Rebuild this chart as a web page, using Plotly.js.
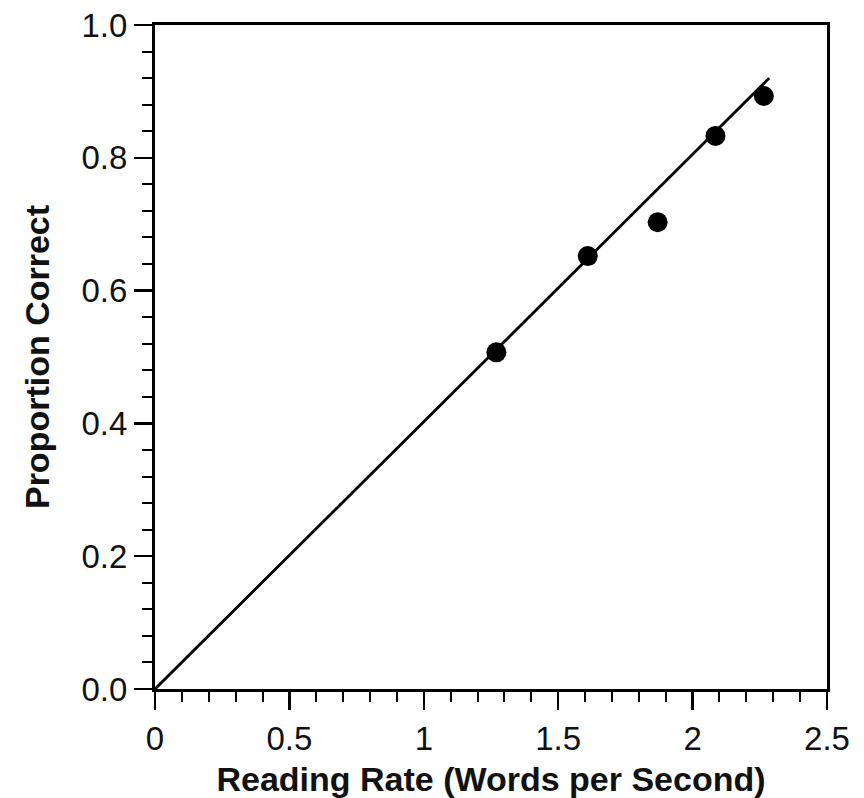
<!DOCTYPE html>
<html>
<head>
<meta charset="utf-8">
<script src="https://cdn.plot.ly/plotly-3.0.1.min.js"></script>
<style>html,body{margin:0;padding:0;background:#fff;}#chart{width:864px;height:798px;}</style>
</head>
<body>
<div id="chart"></div>
<script>
// Data
var readingRate = [1.27, 1.61, 1.87, 2.085, 2.265];
var proportionCorrect = [0.507, 0.652, 0.703, 0.833, 0.893];
var fitX = [0, 2.285];
var fitY = [0, 0.92];
var xTickVals = [0, 0.5, 1, 1.5, 2, 2.5];
var xTickText = ['0', '0.5', '1', '1.5', '2', '2.5'];
var yTickVals = [0, 0.2, 0.4, 0.6, 0.8, 1.0];
var yTickText = ['0.0', '0.2', '0.4', '0.6', '0.8', '1.0'];

var traces = [
  {x: fitX, y: fitY, mode: 'lines', type: 'scatter',
   line: {color: '#000', width: 2.8}, hoverinfo: 'skip', cliponaxis: false},
  {x: readingRate, y: proportionCorrect, mode: 'markers', type: 'scatter',
   marker: {color: '#000', size: 20}, cliponaxis: false}
];

var fontFam = 'Liberation Sans, Arial, Helvetica, sans-serif';
var layout = {
  width: 864, height: 798,
  margin: {l: 155, r: 37, t: 25, b: 109},
  paper_bgcolor: '#fff', plot_bgcolor: '#fff',
  showlegend: false,
  font: {family: fontFam, color: '#000'},
  xaxis: {
    range: [0, 2.5], showgrid: false, zeroline: false,
    showline: true, linecolor: '#000', linewidth: 3, mirror: true,
    ticks: 'outside', ticklen: 18, tickwidth: 2.5, tickcolor: '#000',
    tickvals: xTickVals, ticktext: xTickText,
    tickfont: {size: 33, family: fontFam, color: '#111'},
    minor: {dtick: 0.1, ticks: 'outside', ticklen: 10, tickwidth: 2, tickcolor: '#000', showgrid: false},
    title: {text: 'Reading Rate (Words per Second)', standoff: 14,
            font: {size: 34, family: fontFam, color: '#111', weight: 'bold'}}
  },
  yaxis: {
    range: [0, 1.0], showgrid: false, zeroline: false,
    showline: true, linecolor: '#000', linewidth: 3, mirror: true,
    ticks: 'outside', ticklen: 18, tickwidth: 2.5, tickcolor: '#000',
    tickvals: yTickVals, ticktext: yTickText,
    tickfont: {size: 33, family: fontFam, color: '#111'},
    minor: {dtick: 0.04, ticks: 'outside', ticklen: 10, tickwidth: 2, tickcolor: '#000', showgrid: false},
    title: {text: 'Proportion Correct', standoff: 22,
            font: {size: 34, family: fontFam, color: '#111', weight: 'bold'}}
  }
};

Plotly.newPlot('chart', traces, layout, {displayModeBar: false, staticPlot: true});
</script>
</body>
</html>
